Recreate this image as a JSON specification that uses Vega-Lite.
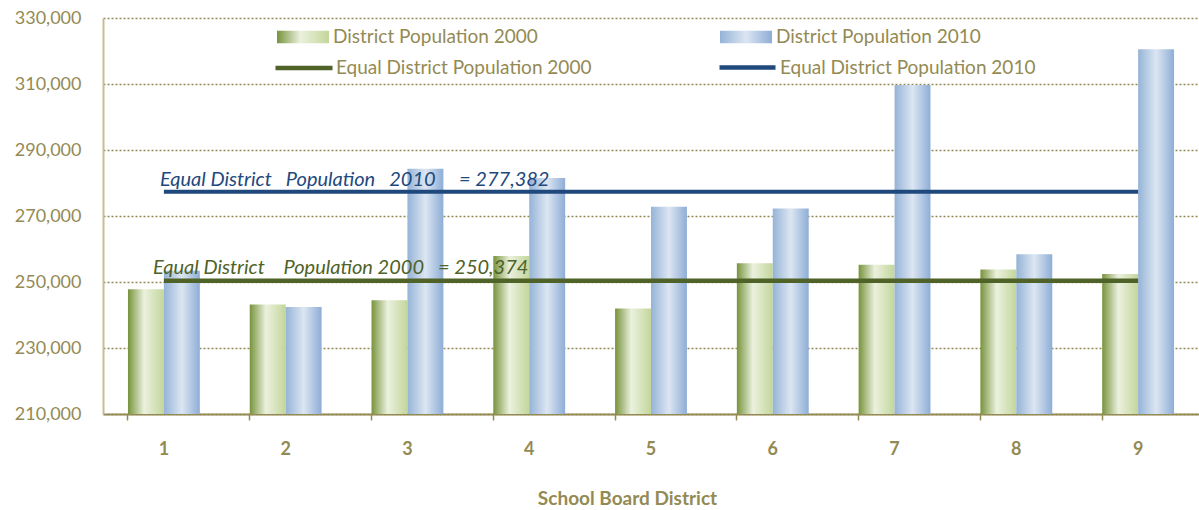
{
  "$schema": "https://vega.github.io/schema/vega-lite/v6.json",
  "width": 1096,
  "height": 396,
  "autosize": {"type": "none"},
  "padding": {"left": 103, "top": 18, "right": 0, "bottom": 96},
  "background": "white",
  "config": {
    "font": "Lato",
    "view": {"stroke": null},
    "legend": {"padding": 0, "title": null, "labelFont": "Lato", "labelFontSize": 19, "labelColor": "#948A54", "labelLimit": 400, "symbolStrokeWidth": 0}
  },
  "datasets": {
    "bars": [
      {"district": "1", "series": "District Population 2000", "population": 247800},
      {"district": "1", "series": "District Population 2010", "population": 253400},
      {"district": "2", "series": "District Population 2000", "population": 243200},
      {"district": "2", "series": "District Population 2010", "population": 242400},
      {"district": "3", "series": "District Population 2000", "population": 244500},
      {"district": "3", "series": "District Population 2010", "population": 284300},
      {"district": "4", "series": "District Population 2000", "population": 257900},
      {"district": "4", "series": "District Population 2010", "population": 281500},
      {"district": "5", "series": "District Population 2000", "population": 242000},
      {"district": "5", "series": "District Population 2010", "population": 272800},
      {"district": "6", "series": "District Population 2000", "population": 255700},
      {"district": "6", "series": "District Population 2010", "population": 272300},
      {"district": "7", "series": "District Population 2000", "population": 255200},
      {"district": "7", "series": "District Population 2010", "population": 309700},
      {"district": "8", "series": "District Population 2000", "population": 253800},
      {"district": "8", "series": "District Population 2010", "population": 258400},
      {"district": "9", "series": "District Population 2000", "population": 252400},
      {"district": "9", "series": "District Population 2010", "population": 320500}
    ],
    "equal": [
      {"district": "1", "label": "Equal District Population 2000", "population": 250374},
      {"district": "9", "label": "Equal District Population 2000", "population": 250374},
      {"district": "1", "label": "Equal District Population 2010", "population": 277382},
      {"district": "9", "label": "Equal District Population 2010", "population": 277382}
    ],
    "notes": [
      {"district": "1", "series": "2000", "population": 250374, "text": "Equal District\u00a0\u00a0\u00a0\u00a0Population 2000\u00a0\u00a0\u00a0= 250,374"},
      {"district": "1", "series": "2010", "population": 277382, "text": "Equal District\u00a0\u00a0\u00a0Population\u00a0\u00a0\u00a02010\u00a0\u00a0\u00a0\u00a0\u00a0= 277,382"}
    ]
  },
  "encoding": {
    "x": {
      "field": "district",
      "type": "nominal",
      "sort": ["1","2","3","4","5","6","7","8","9"],
      "scale": {"domain": ["1","2","3","4","5","6","7","8","9"], "paddingInner": 0.41, "paddingOuter": 0.205},
      "axis": {
        "title": "School Board District",
        "titleFont": "Lato",
        "titleFontSize": 19,
        "titleFontWeight": "bold",
        "titleColor": "#948A54",
        "titleX": 524,
        "titleY": 84,
        "titleBaseline": "middle",
        "labelAngle": 0,
        "labelFont": "Lato",
        "labelFontSize": 18,
        "labelFontWeight": "bold",
        "labelColor": "#948A54",
        "labelPadding": 20,
        "domainColor": "#948A54",
        "domainWidth": 2,
        "ticks": true,
        "tickColor": "#948A54",
        "tickSize": 6,
        "tickWidth": 1.5,
        "bandPosition": 0,
        "grid": false
      }
    },
    "y": {
      "field": "population",
      "type": "quantitative",
      "scale": {"domain": [210000, 330000], "nice": false, "zero": false},
      "axis": {
        "title": null,
        "values": [210000, 230000, 250000, 270000, 290000, 310000, 330000],
        "labelExpr": "format(datum.value, ',')",
        "labelFont": "Lato",
        "labelFontSize": 18,
        "labelColor": "#948A54",
        "labelPadding": 22,
        "ticks": false,
        "domainColor": "#C4BD97",
        "domainWidth": 2,
        "grid": true,
        "gridColor": "#948A54",
        "gridDash": [2, 2],
        "gridWidth": 1.5
      }
    }
  },
  "layer": [
    {
      "data": {"name": "bars"},
      "transform": [{"filter": "datum.series == 'District Population 2000'"}],
      "mark": {"type": "bar",
        "fill": {"gradient": "linear", "x1": 0, "y1": 0, "x2": 1, "y2": 0,
          "stops": [{"offset": 0, "color": "#77933C"}, {"offset": 0.45, "color": "#EBF1DE"}, {"offset": 1, "color": "#C3D69B"}]}},
      "encoding": {
        "xOffset": {"field": "series", "type": "nominal", "scale": {"domain": ["District Population 2000", "District Population 2010"], "paddingInner": 0}},
        "y2": {"datum": 210000},
        "opacity": {
          "field": "series", "type": "ordinal",
          "scale": {"type": "ordinal", "domain": ["District Population 2000"], "range": [1]},
          "legend": {"orient": "none", "legendX": 174, "legendY": -7, "symbolType": "M-1,-0.24H1V0.24H-1Z", "symbolSize": 2704, "labelOffset": 4}
        }
      }
    },
    {
      "data": {"name": "bars"},
      "transform": [{"filter": "datum.series == 'District Population 2010'"}],
      "mark": {"type": "bar",
        "fill": {"gradient": "linear", "x1": 0, "y1": 0, "x2": 1, "y2": 0,
          "stops": [{"offset": 0, "color": "#95B3D7"}, {"offset": 0.5, "color": "#DCE6F2"}, {"offset": 1, "color": "#8EADD6"}]}},
      "encoding": {
        "xOffset": {"field": "series", "type": "nominal", "scale": {"domain": ["District Population 2000", "District Population 2010"], "paddingInner": 0}},
        "y2": {"datum": 210000},
        "opacity": {
          "field": "series", "type": "ordinal",
          "scale": {"type": "ordinal", "domain": ["District Population 2010"], "range": [1]},
          "legend": {"orient": "none", "legendX": 617, "legendY": -7, "symbolType": "M-1,-0.24H1V0.24H-1Z", "symbolSize": 2704, "labelOffset": 4}
        }
      }
    },
    {
      "data": {"name": "equal"},
      "transform": [{"filter": "datum.label == 'Equal District Population 2000'"}],
      "mark": {"type": "line", "strokeWidth": 4.5, "color": "#4F6228"},
      "encoding": {
        "opacity": {
          "field": "label", "type": "ordinal",
          "scale": {"type": "ordinal", "domain": ["Equal District Population 2000"], "range": [1]},
          "legend": {"orient": "none", "legendX": 170, "legendY": 19, "symbolType": "stroke", "symbolSize": 3249, "symbolStrokeWidth": 4.5, "symbolStrokeColor": "#4F6228", "labelOffset": 1}
        }
      }
    },
    {
      "data": {"name": "equal"},
      "transform": [{"filter": "datum.label == 'Equal District Population 2010'"}],
      "mark": {"type": "line", "strokeWidth": 4, "color": "#1F497D"},
      "encoding": {
        "opacity": {
          "field": "label", "type": "ordinal",
          "scale": {"type": "ordinal", "domain": ["Equal District Population 2010"], "range": [1]},
          "legend": {"orient": "none", "legendX": 614, "legendY": 19, "symbolType": "stroke", "symbolSize": 3136, "symbolStrokeWidth": 4.5, "symbolStrokeColor": "#1F497D", "labelOffset": 2}
        }
      }
    },
    {
      "data": {"name": "notes"},
      "transform": [{"filter": "datum.series == '2000'"}],
      "mark": {"type": "text", "align": "left", "baseline": "alphabetic", "dx": -11, "dy": -7, "fontStyle": "italic", "fontSize": 20, "font": "Lato", "color": "#4F6228"},
      "encoding": {
        "text": {"field": "text"}
      }
    },
    {
      "data": {"name": "notes"},
      "transform": [{"filter": "datum.series == '2010'"}],
      "mark": {"type": "text", "align": "left", "baseline": "alphabetic", "dx": -4, "dy": -6, "fontStyle": "italic", "fontSize": 20, "font": "Lato", "color": "#1F497D"},
      "encoding": {
        "text": {"field": "text"}
      }
    }
  ],
  "resolve": {"scale": {"opacity": "independent"}, "legend": {"opacity": "independent"}}
}
